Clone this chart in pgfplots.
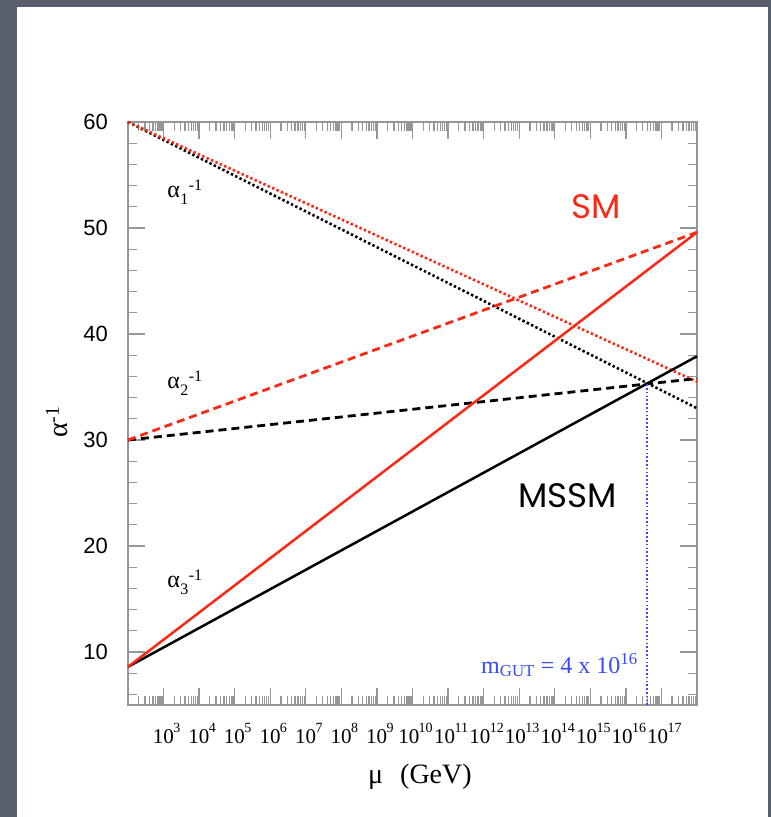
\documentclass[border=0pt]{standalone}
\usepackage{pgfplots}
\pgfplotsset{compat=1.18}
\usepackage{amsmath}
\usepackage{fontspec}
\setmainfont{Liberation Serif}
\setsansfont{Liberation Sans}
\newfontfamily\pop{Poppins}
\definecolor{bgcol}{RGB}{90,95,110}
\definecolor{axgray}{RGB}{150,150,150}
\definecolor{smred}{RGB}{250,40,20}
\definecolor{gutblue}{RGB}{55,75,255}
\def\minorx{}
\foreach \n in {2,...,17}{\foreach \k in {0.30103,0.47712,0.60206,0.69897,0.77815,0.8451,0.90309,0.95424}{\pgfmathsetmacro\v{\n+\k}\xdef\minorx{\minorx\v,}}}
\xdef\minorx{\minorx 18}
\newcommand\tl[1]{10\kern-0.6pt\raisebox{11pt}{\fontsize{14}{14}\selectfont #1}}
\newcommand\al[1]{α\kern0.5pt\raisebox{-7pt}{\fontsize{16}{16}\selectfont #1}\kern0.5pt\raisebox{7pt}{\fontsize{16}{16}\selectfont -1}}
\begin{document}
\begin{tikzpicture}[x=1pt,y=1pt]
\fill[bgcol] (0,0) rectangle (771,-817);
\fill[white] (17,-7) rectangle (768,-817);
\begin{axis}[
  at={(128pt,-705pt)}, anchor=south west,
  scale only axis, width=569pt, height=583pt,
  xmin=2, xmax=18, ymin=5, ymax=60,
  clip=false,
  axis line style={draw=axgray, line width=1.6pt},
  tick style={draw=axgray, line width=1.3pt},
  major tick length=17pt, minor tick length=9pt,
  tick align=inside,
  xtick={3,...,17},
  xticklabels={\tl{3},\tl{4},\tl{5},\tl{6},\tl{7},\tl{8},\tl{9},\tl{10},\tl{11},\tl{12},\tl{13},\tl{14},\tl{15},\tl{16},\tl{17}},
  minor xtick/.expand once=\minorx,
  ytick={10,20,30,40,50,60},
  yticklabels={10,20,30,40,50,60},
  minor ytick={6,8,12,14,16,18,22,24,26,28,32,34,36,38,42,44,46,48,52,54,56,58},
  xticklabel style={font=\fontsize{21}{21}\selectfont, anchor=base, inner sep=0pt, yshift=-38pt, xshift=3pt},
  yticklabel style={font=\sffamily\fontsize{22}{22}\selectfont, anchor=east, inner sep=0pt, xshift=-20pt},
]
% alpha_1
\addplot[black, line width=2.6pt, dash pattern=on 2.4pt off 2.4pt] coordinates {(2,60) (18,33.0)};
\addplot[smred, line width=2.6pt, dash pattern=on 2.4pt off 2.4pt] coordinates {(2,60) (18,35.5)};
% alpha_2
\addplot[black, line width=2.8pt, dash pattern=on 8pt off 5pt] coordinates {(2,30) (18,35.8)};
\addplot[smred, line width=2.8pt, dash pattern=on 8pt off 5pt] coordinates {(2,30) (18,49.6)};
% alpha_3
\addplot[black, line width=2.5pt] coordinates {(2,8.6) (18,37.9)};
\addplot[smred, line width=2.5pt] coordinates {(2,8.6) (18,49.6)};
% m_GUT
\addplot[gutblue, line width=1.6pt, dash pattern=on 1.6pt off 2.2pt] coordinates {(16.602,5) (16.602,35.3)};
\node[anchor=base west, inner sep=0pt, font=\fontsize{24}{24}\selectfont] at (axis cs:3.10,52.9) {\al{1}};
\node[anchor=base west, inner sep=0pt, font=\fontsize{24}{24}\selectfont] at (axis cs:3.10,34.9) {\al{2}};
\node[anchor=base west, inner sep=0pt, font=\fontsize{24}{24}\selectfont] at (axis cs:3.10,16.1) {\al{3}};
\node[text=smred, font=\pop\fontsize{34}{34}\selectfont, inner sep=0pt] at (axis cs:15.16,52.0) {SM};
\node[text=black, font=\pop\fontsize{34}{34}\selectfont, inner sep=0pt] at (axis cs:14.37,24.8) {MSSM};
\node[anchor=base east, inner sep=0pt, text=gutblue, font=\fontsize{24}{24}\selectfont] at (axis cs:16.34,8.0) {m\textsubscript{GUT} = 4 x 10\textsuperscript{16}};
\end{axis}
\node[anchor=west, inner sep=0pt, font=\fontsize{28}{28}\selectfont] at (368,-777) {μ\hspace{17pt}(GeV)};
\node[rotate=90, inner sep=0pt, font=\fontsize{28}{28}\selectfont] at (57,-422) {α$^{\text{-1}}$};
\end{tikzpicture}
\end{document}
